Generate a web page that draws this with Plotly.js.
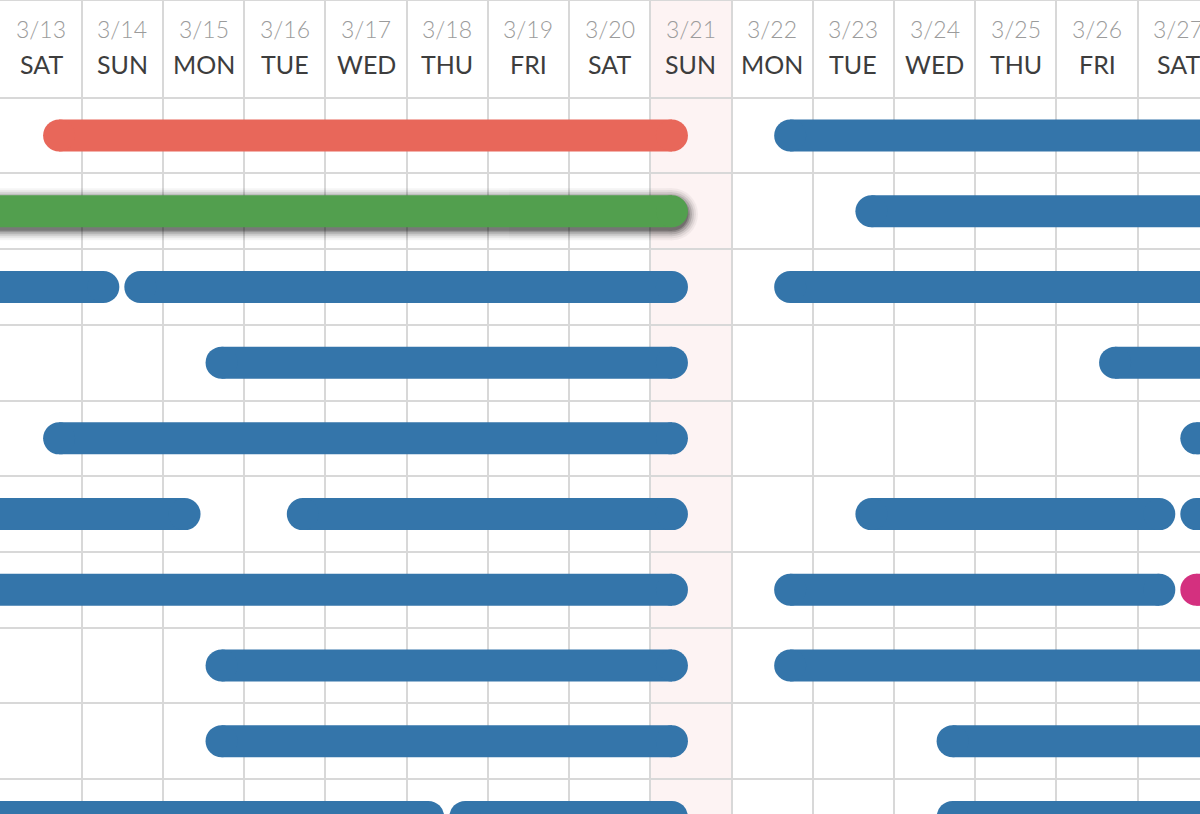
<!DOCTYPE html>
<html><head><meta charset="utf-8">
<script src="https://cdn.plot.ly/plotly-3.0.1.min.js"></script>
<style>html,body{margin:0;padding:0;background:#fff;overflow:hidden}#chart{width:1200px;height:814px}</style>
</head><body><div id="chart"></div>
<script>
// ---- data ----
const days = ['2021-03-13','2021-03-14','2021-03-15','2021-03-16','2021-03-17','2021-03-18','2021-03-19','2021-03-20','2021-03-21','2021-03-22','2021-03-23','2021-03-24','2021-03-25','2021-03-26','2021-03-27'];
const dayLabels = ['3/13','3/14','3/15','3/16','3/17','3/18','3/19','3/20','3/21','3/22','3/23','3/24','3/25','3/26','3/27'];
const weekdayLabels = ['SAT','SUN','MON','TUE','WED','THU','FRI','SAT','SUN','MON','TUE','WED','THU','FRI','SAT'];
const today = '2021-03-21';
const roomRows = [1,2,3,4,5,6,7,8,9,10];

// bookings: room row, check-in, check-out, status
const bookingRoom   = [1,1, 2,2, 3,3,3, 4,4, 5,5, 6,6,6,6, 7,7,7, 8,8, 9,9, 10,10,10];
const bookingStart  = ['2021-03-13','2021-03-22', '2021-03-11','2021-03-23', '2021-03-11','2021-03-14','2021-03-22', '2021-03-15','2021-03-26', '2021-03-13','2021-03-27', '2021-03-11','2021-03-16','2021-03-23','2021-03-27', '2021-03-11','2021-03-22','2021-03-27', '2021-03-15','2021-03-22', '2021-03-15','2021-03-24', '2021-03-11','2021-03-18','2021-03-24'];
const bookingEnd    = ['2021-03-21','2021-03-29', '2021-03-21','2021-03-29', '2021-03-14','2021-03-21','2021-03-29', '2021-03-21','2021-03-29', '2021-03-21','2021-03-29', '2021-03-15','2021-03-21','2021-03-27','2021-03-29', '2021-03-21','2021-03-27','2021-03-29', '2021-03-21','2021-03-29', '2021-03-21','2021-03-29', '2021-03-18','2021-03-21','2021-03-29'];
const bookingStatus = ['checkout','reserved', 'inhouse','reserved', 'reserved','reserved','reserved', 'reserved','reserved', 'reserved','reserved', 'reserved','reserved','reserved','reserved', 'reserved','reserved','new', 'reserved','reserved', 'reserved','reserved', 'reserved','reserved','reserved'];
const statusColors = {reserved:'#3475aa', checkout:'#e8675a', inhouse:'#529f4e', new:'#d4307f'};

// ---- helpers ----
const DAY = 86400000;
const t0 = Date.parse(days[0] + 'T00:00:00Z');
const idx = d => (Date.parse(d + 'T00:00:00Z') - t0) / DAY; // day index, column centre
const PX_PER_DAY = 81.23;
const BAR_W = 32;
const startOff = (2 + BAR_W/2) / PX_PER_DAY;
const endOff = (3 + BAR_W/2) / PX_PER_DAY;

function segs(filter, dy) {
  const x = [], y = [];
  bookingRoom.forEach((r, i) => {
    if (!filter(i)) return;
    x.push(idx(bookingStart[i]) + startOff, idx(bookingEnd[i]) - endOff, null);
    y.push(r + dy, r + dy, null);
  });
  return {x, y};
}

const traces = [];
// soft shadow under in-house bookings
const shadowLayers = [[52,0.04],[48,0.06],[44,0.09],[40,0.13],[36,0.17],[33,0.2]];
shadowLayers.forEach(([w, op]) => {
  const s = segs(i => bookingStatus[i] === 'inhouse', 3/75.7);
  traces.push({type:'scatter', mode:'lines+markers', x:s.x, y:s.y, opacity:op,
    line:{color:'#000', width:w}, marker:{color:'#000', size:w, line:{width:0}},
    hoverinfo:'skip', showlegend:false});
});
Object.keys(statusColors).forEach(st => {
  const s = segs(i => bookingStatus[i] === st, 0);
  traces.push({type:'scatter', mode:'lines+markers', x:s.x, y:s.y, name:st,
    line:{color:statusColors[st], width:BAR_W}, marker:{color:statusColors[st], size:BAR_W, line:{width:0}},
    hoverinfo:'skip', showlegend:false});
});

const boundaries = days.map((d, i) => idx(d) - 0.5).concat([days.length - 0.5]);
const rowBounds = roomRows.map(r => r - 0.5);

const annotations = [];
days.forEach((d, i) => {
  annotations.push({x: idx(d), y: 1 - 28.5/814, xref:'x', yref:'paper', text: dayLabels[i], showarrow:false,
    xanchor:'center', yanchor:'middle', font:{family:'Lato', size:23, color:'#9b9b9b', weight:300}});
  annotations.push({x: idx(d), y: 1 - 63.5/814, xref:'x', yref:'paper', text: weekdayLabels[i], showarrow:false,
    xanchor:'center', yanchor:'middle', font:{family:'Lato', size:25, color:'#3d3d3d'}});
});

const ti = idx(today);
const layout = {
  width:1200, height:814, margin:{l:0,r:0,t:0,b:0},
  paper_bgcolor:'#fff', plot_bgcolor:'#fff', showlegend:false,
  xaxis:{range:[-0.506, 14.267], tickmode:'array', tickvals:boundaries, showticklabels:false, ticks:'',
    showgrid:true, gridcolor:'#d8d8d8', gridwidth:2, zeroline:false, showline:false, fixedrange:true},
  yaxis:{range:[9.962, -0.7906], tickmode:'array', tickvals:rowBounds, showticklabels:false, ticks:'',
    showgrid:true, gridcolor:'#d8d8d8', gridwidth:2, zeroline:false, showline:false, fixedrange:true},
  shapes:[
    {type:'rect', xref:'x', yref:'paper', x0:ti-0.5, x1:ti+0.5, y0:0, y1:1, fillcolor:'#fdf3f3', line:{width:0}, layer:'below'},
    {type:'line', xref:'paper', yref:'paper', x0:0, x1:1, y0:1, y1:1, line:{color:'#d8d8d8', width:2}, layer:'below'}
  ],
  annotations
};
Plotly.newPlot('chart', traces, layout, {staticPlot:true, displayModeBar:false});
</script></body></html>
